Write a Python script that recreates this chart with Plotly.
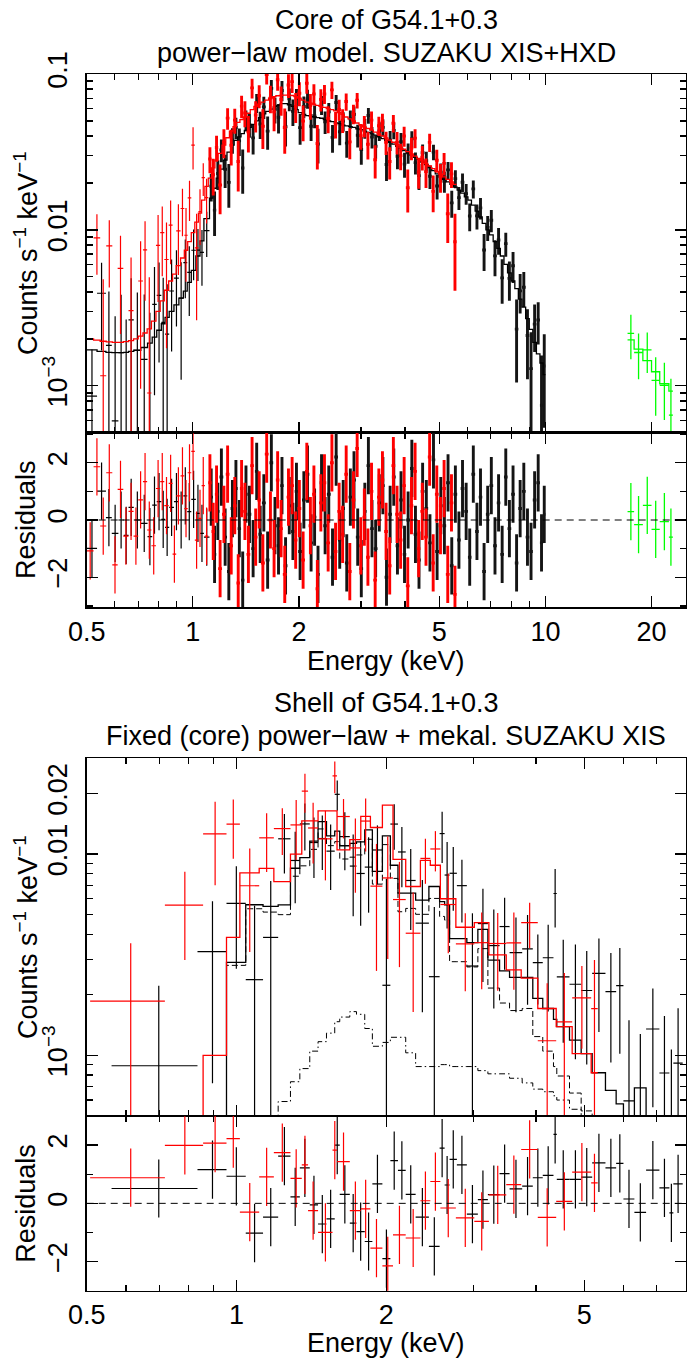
import plotly.graph_objects as go

FONT = "Liberation Sans, Arial, Helvetica, sans-serif"
FS = 27

# ---------------- Core of G54.1+0.3 : XIS (black, red) + HXD (green) ----------------
core_black_edges = [0.500, 0.535, 0.567, 0.589, 0.615, 0.637, 0.657, 0.680, 0.712, 0.744,
    0.767, 0.790, 0.814, 0.834, 0.857, 0.884, 0.913, 0.940, 0.964, 0.990,
    1.020, 1.048, 1.075, 1.115, 1.14, 1.165, 1.19, 1.22, 1.25, 1.28, 1.31, 1.34, 1.37,
    1.40, 1.43, 1.465, 1.50, 1.535, 1.57, 1.61, 1.65, 1.69, 1.73,
    1.77, 1.81, 1.855, 1.90, 1.945, 1.99, 2.04, 2.09, 2.14, 2.19,
    2.24, 2.29, 2.345, 2.40, 2.46, 2.52, 2.58, 2.64, 2.70, 2.765,
    2.83, 2.90, 2.97, 3.04, 3.11, 3.185, 3.26, 3.34, 3.42, 3.50,
    3.585, 3.67, 3.76, 3.85, 3.94, 4.03, 4.13, 4.23, 4.33, 4.43,
    4.54, 4.65, 4.76, 4.87, 4.99, 5.11, 5.23, 5.36, 5.49, 5.62,
    5.75, 5.89, 6.03, 6.17, 6.32, 6.47, 6.62, 6.78, 6.94, 7.11,
    7.28, 7.45, 7.63, 7.81, 8.00, 8.19, 8.38, 8.58, 8.79, 9.00,
    9.21, 9.43, 9.65, 9.85, 10.0]
core_black_model = [1.70e-3, 1.66e-3, 1.64e-3, 1.63e-3, 1.63e-3, 1.64e-3, 1.66e-3, 1.69e-3, 1.76e-3, 1.88e-3,
    2.05e-3, 2.27e-3, 2.5e-3, 2.75e-3, 3.0e-3, 3.3e-3, 3.65e-3, 4.05e-3, 4.6e-3, 5.5e-3,
    6.8e-3, 8.5e-3, 0.0118,
    0.0160, 0.0185, 0.0215, 0.0245, 0.0280, 0.0315, 0.0350, 0.0375, 0.0395, 0.0415,
    0.0435, 0.0455, 0.0475, 0.0500, 0.0525, 0.0555, 0.0575, 0.0595, 0.0615, 0.0630,
    0.0645, 0.0645, 0.0635, 0.0620, 0.0590, 0.0565, 0.0550, 0.0540, 0.0535, 0.0530,
    0.0525, 0.0520, 0.0510, 0.0500, 0.0495, 0.0485, 0.0480, 0.0470, 0.0465, 0.0460,
    0.0455, 0.0445, 0.0440, 0.0430, 0.0422, 0.0413, 0.0405, 0.0395, 0.0385, 0.0375,
    0.0365, 0.0355, 0.0343, 0.0333, 0.0322, 0.0312, 0.0302, 0.0292, 0.0282, 0.0272,
    0.0262, 0.0251, 0.0240, 0.0229, 0.0218, 0.0211, 0.0203, 0.0196, 0.0188, 0.0180,
    0.0172, 0.0163, 0.0155, 0.0144, 0.0132, 0.0121, 0.0110, 0.0100, 0.0093, 0.0084,
    0.0076, 0.0068, 0.0060, 0.0053, 0.0047, 0.0042, 0.0036, 0.0032, 0.0027, 0.0023,
    0.0019, 0.0016, 0.0014, 0.00118]
core_black_resid = [-0.99, 1.01, 0.08, -0.47, 0.0, -0.54, 0.44, 0.0, -0.12, -0.58,
    0.52, 0.64, 0.02, -0.26, 0.44, 0.64, 0.0, 0.84, 0.29, 0.72, 0.23, -0.47, -0.60,
    0.8, -1.2, 0.3, 1.5, -0.6, -1.8, 0.4, 1.1, -0.3, -2.1, 0.9, 0.2, -1.0, 1.7, -0.5,
    0.6, -1.4, 2.0, -0.2, -0.9, 1.2, -1.6, 0.5, -0.4, 1.0,
    -1.1, 0.7, 1.6, -0.8, 0.1, -1.9, 1.3, -0.2, 0.9, -1.3, 2.2, -0.7, 0.4, -1.5, 0.8,
    1.4, -0.6, -1.7, 0.3, 1.9, -0.3, -1.0, 0.6, 1.2, -2.0, 0.2, 1.5, -0.9, 0.7, -1.2,
    0.0, 1.8, -0.5, -1.4, 1.0, 0.4, -0.8, 2.1, -1.1, 0.5, -0.2, 1.3, -1.6, 0.9,
    -0.7, 1.1, 0.3, -1.3, 1.6, -0.4, 0.8, -1.8, 0.2, 1.2, -0.9, 0.6, -1.2, 1.5, -0.3,
    0.9, -1.5, 0.4, 1.0, -0.6, -1.1, 0.7, 1.3, -0.8, 0.2]
core_black_relerr = [0.50, 1.35, 1.35, 1.35, 1.35, 1.35, 1.35, 1.35, 1.35, 1.35,
    1.20, 1.05, 0.95, 0.85, 0.80, 0.76, 0.70, 0.62, 0.55, 0.48, 0.40, 0.33, 0.27,
    0.24, 0.23, 0.23, 0.22, 0.21, 0.20, 0.20,
    0.19, 0.19, 0.19, 0.18, 0.18, 0.18, 0.18, 0.18, 0.18, 0.18,
    0.18, 0.18, 0.18, 0.18, 0.18, 0.18, 0.18, 0.18, 0.18, 0.18,
    0.18, 0.17, 0.17, 0.17, 0.17, 0.16, 0.16, 0.16,
    0.16, 0.16, 0.15, 0.15, 0.15, 0.15, 0.15, 0.15, 0.15, 0.15, 0.15, 0.15, 0.15, 0.15, 0.15,
    0.15, 0.15, 0.15, 0.15, 0.15, 0.15, 0.15, 0.15, 0.15, 0.15, 0.15, 0.15, 0.15, 0.15,
    0.15, 0.15, 0.15, 0.15, 0.15, 0.15, 0.16, 0.16,
    0.16, 0.17, 0.17, 0.18, 0.18, 0.19,
    0.20, 0.21, 0.22, 0.23, 0.24, 0.26,
    0.28, 0.30, 0.32, 0.34, 0.37,
    0.40, 0.44, 0.50,
    0.58, 0.68]
core_black_nlow = 23   # sparse low-energy bins (below ~1.1 keV)

core_red_edges = [0.500, 0.523, 0.546, 0.568, 0.591, 0.612, 0.635, 0.657, 0.679, 0.700,
    0.722, 0.742, 0.763, 0.786, 0.808, 0.830, 0.854, 0.876, 0.897, 0.923,
    0.946, 0.967, 0.990, 1.013, 1.037, 1.059, 1.082, 1.106,
    1.13, 1.155, 1.18, 1.21, 1.24, 1.27, 1.30, 1.33, 1.36,
    1.39, 1.42, 1.455, 1.49, 1.525, 1.56, 1.60, 1.64, 1.68, 1.72,
    1.76, 1.80, 1.845, 1.89, 1.935, 1.98, 2.03, 2.08, 2.13, 2.18,
    2.23, 2.28, 2.335, 2.39, 2.45, 2.51, 2.57, 2.63, 2.69, 2.755,
    2.82, 2.89, 2.96, 3.03, 3.10, 3.175, 3.25, 3.33, 3.41, 3.49,
    3.575, 3.66, 3.75, 3.84, 3.93, 4.02, 4.12, 4.22, 4.32, 4.42,
    4.53, 4.64, 4.75, 4.86, 4.98, 5.10, 5.22, 5.35, 5.48, 5.60]
core_red_model = [2.0e-3, 1.96e-3, 1.93e-3, 1.91e-3, 1.90e-3, 1.90e-3, 1.92e-3, 1.95e-3, 2.0e-3, 2.08e-3,
    2.18e-3, 2.32e-3, 2.6e-3, 3.0e-3, 3.5e-3, 4.1e-3, 4.7e-3, 5.2e-3, 5.9e-3, 6.6e-3,
    7.4e-3, 8.4e-3, 9.6e-3, 0.0112, 0.0128, 0.0155, 0.019,
    0.0215, 0.025, 0.028, 0.031, 0.035, 0.039, 0.043, 0.046, 0.049, 0.051,
    0.053, 0.056, 0.059, 0.062, 0.064, 0.066, 0.068, 0.070, 0.0715, 0.0725,
    0.073, 0.0732, 0.0732, 0.0728, 0.0715, 0.070, 0.068, 0.066, 0.065, 0.064,
    0.063, 0.062, 0.061, 0.060, 0.059, 0.058, 0.0565, 0.055, 0.053, 0.0515,
    0.050, 0.0485, 0.047, 0.0458, 0.0447, 0.0436, 0.0424, 0.0413, 0.0401, 0.0389,
    0.0377, 0.0365, 0.0352, 0.0340, 0.0329, 0.0318, 0.0307, 0.0297, 0.0287, 0.0277,
    0.0267, 0.0257, 0.0247, 0.0237, 0.0228, 0.0219, 0.0211, 0.0203, 0.0196]
core_red_resid = [-1.08, 1.86, -0.21, 1.65, -1.57, 1.07, -0.56, 0.30, -0.56, 0.70,
    1.34, -0.35, -0.90, 1.10, 1.34, 0.50, 1.28, -1.19, 0.84, 1.54,
    0.40, 1.65, 2.40, -0.70, 0.06, 1.20, -0.56,
    1.3, -0.4, 0.9, -1.7, 0.2, 1.6, -0.9, 0.5, -2.2, 1.1, 0.3, -1.2, 1.9, -0.6, 0.7,
    -1.5, 2.3, 0.0, -1.0, 1.4, -0.3, -1.9, 0.8, 1.2, -0.7, 0.4,
    -1.4, 1.7, -0.2, 0.9, -2.4, 0.6, 1.3, -0.8, 2.0, -1.1, 0.3, -0.5, 1.6, -1.8, 0.7,
    2.5, -0.9, 0.1, -1.3, 1.0, -2.1, 0.8, 1.4, -0.4, -1.6, 1.9, 0.2, -0.7, 1.2, -2.3,
    0.5, 1.7, -1.0, 0.3, -0.6, 2.2, -1.5, 0.9, -0.2, 1.1, -1.9, 0.6, -2.6]
core_red_relerr = [1.9, 1.9, 1.9, 1.9, 1.9, 1.85, 1.85, 1.85, 1.8, 1.8,
    1.8, 1.75, 1.7, 1.5, 1.3, 1.15, 1.0, 0.9, 0.8, 0.7,
    0.62, 0.55, 1.1, 0.45, 0.4, 0.33, 0.27,
    0.25, 0.24, 0.23, 0.22, 0.22, 0.21, 0.21,
    0.20, 0.20, 0.20, 0.20, 0.20, 0.20, 0.20, 0.19, 0.20, 0.20,
    0.20, 0.20, 0.19, 0.20, 0.20, 0.20, 0.19, 0.19, 0.19, 0.19,
    0.19, 0.18, 0.18, 0.18, 0.18, 0.17, 0.17, 0.17,
    0.16, 0.16, 0.16, 0.16, 0.16, 0.16, 0.16, 0.16, 0.16, 0.16, 0.16, 0.16, 0.16, 0.16, 0.16,
    0.17, 0.17, 0.17, 0.17, 0.18, 0.18, 0.18, 0.18, 0.18, 0.19,
    0.19, 0.19, 0.19, 0.20, 0.20, 0.20, 0.21, 0.21, 0.22]
core_red_nlow = 27

core_green_edges = [17.1, 17.85, 18.9, 20.0, 21.1, 22.4, 23.0]
core_green_model = [1.97e-3, 1.72e-3, 1.45e-3, 1.23e-3, 1.03e-3, 9.25e-4]
core_green_resid = [0.29, -0.16, 0.51, -0.33, -0.06, -0.60]
core_green_relerr = [0.35, 0.31, 0.34, 0.36, 0.39, 0.50]

# ---------------- Shell of G54.1+0.3 : XIS (black, red) ----------------
shell_black_edges = [0.561, 0.835, 0.955, 1.044, 1.131, 1.213, 1.284, 1.341, 1.404, 1.459,
    1.517, 1.576, 1.613, 1.690, 1.743, 1.811, 1.876, 1.965, 2.039, 2.112,
    2.189, 2.292, 2.437, 2.561, 2.621, 2.682, 2.774, 2.905, 3.057, 3.202,
    3.380, 3.540, 3.753, 3.942, 4.128, 4.338, 4.405, 4.672, 4.931, 5.189,
    5.518, 5.798, 5.997, 6.309, 6.660, 7.083, 7.418, 7.556, 7.890]
shell_black_powerlaw = [2.0e-4, 3.0e-4, 2.8e-3, 5.35e-3, 5.15e-3, 5.0e-3, 7.76e-3, 8.74e-3, 0.01055, 0.01333,
    0.01101, 0.01153, 0.00945, 0.00965, 0.0099, 0.01184, 0.00709, 0.01114, 0.00757, 0.00517,
    0.00537, 0.00502, 0.00602, 0.0049, 0.0047, 0.00292, 0.00292, 0.00275, 0.00339, 0.00216,
    0.00182, 0.00167, 0.00171, 0.00124, 0.00105, 0.00088, 0.00079, 0.00065, 0.00053, 0.00037,
    0.00025, 0.000175, 0.00008, 0.00033, 0.00009, 0.00008, 0.00007, 0.00006]
shell_black_mekal = [1e-5, 2e-5, 1e-4, 2.5e-4, 3.5e-4, 5.9e-4, 7.4e-4, 8.6e-4, 1.05e-3, 1.17e-3,
    1.29e-3, 1.47e-3, 1.55e-3, 1.65e-3, 1.6e-3, 1.36e-3, 1.11e-3, 1.16e-3, 1.23e-3, 1.23e-3,
    1.03e-3, 8.8e-4, 8.8e-4, 9.0e-4, 9.0e-4, 8.8e-4, 8.8e-4, 8.8e-4, 8.4e-4, 8.1e-4,
    8.1e-4, 7.7e-4, 7.3e-4, 6.8e-4, 6.6e-4, 6.3e-4, 6.0e-4, 5.4e-4, 4.9e-4, 4.5e-4,
    4.2e-4, 4.0e-4, 3.8e-4, 3.6e-4, 3.5e-4, 3.4e-4, 3.3e-4, 3.2e-4]
shell_black_resid = [0.51, 1.16, 0.93, -1.02, -0.47, 1.62, 0.22, 1.22, -0.05, -0.71,
    -0.53, 2.0, 0.31, -0.68, -0.97, -1.31, 0.67, -1.9, 1.47, 1.13,
    0.31, -0.47, -1.48, 1.90, 0.63, 1.51, 1.32, -0.37, 0.13, 0.30,
    1.02, 0.50, 0.59, 0.88, 0.96, 2.37, 0.82, 0.82, 0.90, 1.39,
    1.22, 1.37, 0.15, -0.31, 1.14, 0.53, -0.33, 0.67]
shell_black_err = [1.33e-3, 2.55e-3, 3.0e-3, 3.16e-3, 3.5e-3, 3.9e-3, 3.6e-3, 3.7e-3, 3.8e-3, 3.6e-3,
    3.7e-3, 3.4e-3, 3.9e-3, 3.8e-3, 3.6e-3, 3.5e-3, 3.4e-3, 5.3e-3, 3.6e-3, 3.4e-3,
    3.2e-3, 2.9e-3, 3.0e-3, 3.6e-3, 3.6e-3, 2.8e-3, 2.4e-3, 2.3e-3, 2.2e-3, 1.8e-3,
    1.7e-3, 1.6e-3, 1.6e-3, 1.1e-3, 1.4e-3, 2.05e-3, 1.3e-3, 1.3e-3, 1.2e-3, 1.25e-3,
    1.15e-3, 1.2e-3, 0.9e-3, 0.85e-3, 0.8e-3, 0.75e-3, 1.0e-3, 0.8e-3]

shell_red_edges = [0.508, 0.718, 0.857, 0.955, 1.016, 1.111, 1.189, 1.284, 1.353, 1.393,
    1.459, 1.560, 1.593, 1.690, 1.778, 1.859, 1.965, 2.064, 2.189, 2.343,
    2.453, 2.570, 2.761, 3.007, 3.217, 3.486, 3.736, 4.034, 4.393, 4.730,
    5.165, 5.324]
shell_red_model = [3.3e-4, 4.0e-4, 1.0e-3, 3.86e-3, 8.07e-3, 8.49e-3, 7.29e-3, 0.0100, 0.0146, 0.0146,
    0.0164, 0.0164, 0.0105, 0.0118, 0.0154, 0.01355, 0.0175, 9.4e-3, 6.9e-3, 9.3e-3,
    8.8e-3, 6.0e-3, 4.33e-3, 4.56e-3, 3.16e-3, 2.66e-3, 2.42e-3, 1.71e-3, 1.39e-3, 1.02e-3,
    8.2e-4]
shell_red_resid = [0.88, 1.99, 2.07, 2.22, -0.30, 0.91, 1.74, 0.86, 1.32, -0.25,
    -1.00, 1.83, 1.43, -0.25, -0.19, -1.54, -2.15, -1.08, -1.19, 0.09,
    0.75, -0.16, -0.50, -0.62, 0.29, 0.64, 1.85, -0.48, 0.07, 1.07,
    0.70]
shell_red_err = [1.74e-3, 2.6e-3, 5.6e-3, 4.6e-3, 3.7e-3, 3.9e-3, 3.5e-3, 4.6e-3, 4.5e-3, 4.5e-3,
    4.5e-3, 4.4e-3, 3.4e-3, 4.3e-3, 4.3e-3, 4.3e-3, 4.6e-3, 3.2e-3, 2.4e-3, 2.4e-3,
    2.4e-3, 2.4e-3, 1.5e-3, 1.5e-3, 1.5e-3, 1.5e-3, 1.16e-3, 1.1e-3, 1.1e-3, 0.85e-3,
    1.27e-3]

# ---------------- tick labels ----------------
core_xtick_vals = [0.5, 1, 2, 5, 10, 20]
core_xtick_text = ["0.5", "1", "2", "5", "10", "20"]
core_xminor = [0.6, 0.7, 0.8, 0.9, 3, 4, 6, 7, 8, 9]
core_ytick_vals = [1e-3, 1e-2, 1e-1]
core_ytick_text = ["10<sup>\u22123</sup>", "0.01", "0.1"]
core_yminor = [6e-4, 7e-4, 8e-4, 9e-4, 2e-3, 3e-3, 4e-3, 5e-3, 6e-3, 7e-3, 8e-3, 9e-3,
               2e-2, 3e-2, 4e-2, 5e-2, 6e-2, 7e-2, 8e-2, 9e-2]
shell_xtick_vals = [0.5, 1, 2, 5]
shell_xtick_text = ["0.5", "1", "2", "5"]
shell_xminor = [0.6, 0.7, 0.8, 0.9, 3, 4, 6, 7, 8]
shell_ytick_vals = [1e-3, 1e-2, 2e-2]
shell_ytick_text = ["10<sup>\u22123</sup>", "0.01", "0.02"]
shell_yminor = [6e-4, 7e-4, 8e-4, 9e-4, 2e-3, 3e-3, 4e-3, 5e-3, 6e-3, 7e-3, 8e-3, 9e-3, 3e-2]
res_tick_vals = [-2, 0, 2]
res_tick_text = ["\u22122", "0", "2"]
res_minor = [-3, -1, 1, 3]


def check(name, edges, *arrs):
    for a in arrs:
        assert len(a) == len(edges) - 1, (name, len(edges), [len(x) for x in arrs])


check("core_black", core_black_edges, core_black_model, core_black_resid, core_black_relerr)
check("core_red", core_red_edges, core_red_model, core_red_resid, core_red_relerr)
check("core_green", core_green_edges, core_green_model, core_green_resid, core_green_relerr)
check("shell_black", shell_black_edges, shell_black_powerlaw, shell_black_mekal, shell_black_resid, shell_black_err)
check("shell_red", shell_red_edges, shell_red_model, shell_red_resid, shell_red_err)


def centers(edges):
    return [(a + b) / 2 for a, b in zip(edges[:-1], edges[1:])]


def halfwidths(edges):
    return [(b - a) / 2 for a, b in zip(edges[:-1], edges[1:])]


fig = go.Figure()
HIDDEN = dict(size=2, opacity=0)


def add_data(edges, model, resid, err, color, xs, ys, xr, yr, thick, sl=slice(None)):
    xc = centers(edges)[sl]
    hw = halfwidths(edges)[sl]
    md, rs, er = list(model)[sl], list(resid)[sl], list(err)[sl]
    yv = [m + r * e for m, r, e in zip(md, rs, er)]
    fig.add_trace(go.Scatter(
        x=xc, y=yv, mode="markers", marker=HIDDEN,
        error_x=dict(type="data", array=hw, width=0, thickness=thick, color=color),
        error_y=dict(type="data", array=er, width=0, thickness=thick, color=color),
        xaxis=xs, yaxis=ys, showlegend=False, hoverinfo="skip"))
    fig.add_trace(go.Scatter(
        x=xc, y=rs, mode="markers", marker=HIDDEN,
        error_x=dict(type="data", array=hw, width=0, thickness=thick, color=color),
        error_y=dict(type="constant", value=1.0, width=0, thickness=thick, color=color),
        xaxis=xr, yaxis=yr, showlegend=False, hoverinfo="skip"))


def add_step(edges, model, color, xs, ys, dash="solid", width=1.3):
    fig.add_trace(go.Scatter(
        x=list(edges), y=list(model) + [model[-1]], mode="lines",
        line=dict(color=color, width=width, shape="hv", dash=dash),
        xaxis=xs, yaxis=ys, showlegend=False, hoverinfo="skip"))


# ----- core -----
cb_err = [m * f for m, f in zip(core_black_model, core_black_relerr)]
cr_err = [m * f for m, f in zip(core_red_model, core_red_relerr)]
cg_err = [m * f for m, f in zip(core_green_model, core_green_relerr)]
add_data(core_black_edges, core_black_model, core_black_resid, cb_err, "#000000", "x", "y", "x2", "y2", 1.2,
         slice(0, core_black_nlow))
add_data(core_black_edges, core_black_model, core_black_resid, cb_err, "#141414", "x", "y", "x2", "y2", 2.9,
         slice(core_black_nlow, None))
add_step(core_black_edges, core_black_model, "#000000", "x", "y")
add_data(core_red_edges, core_red_model, core_red_resid, cr_err, "#ff0000", "x", "y", "x2", "y2", 1.2,
         slice(0, core_red_nlow))
add_data(core_red_edges, core_red_model, core_red_resid, cr_err, "#ff0000", "x", "y", "x2", "y2", 2.9,
         slice(core_red_nlow, None))
add_step(core_red_edges, core_red_model, "#ff0000", "x", "y")
add_data(core_green_edges, core_green_model, core_green_resid, cg_err, "#00ff00", "x", "y", "x2", "y2", 1.3)
add_step(core_green_edges, core_green_model, "#00ff00", "x", "y")

# ----- shell -----
shell_black_total = [p + k for p, k in zip(shell_black_powerlaw, shell_black_mekal)]
add_data(shell_black_edges, shell_black_total, shell_black_resid, shell_black_err, "#000000", "x3", "y3", "x4", "y4", 1.2)
add_step(shell_black_edges, shell_black_total, "#000000", "x3", "y3")
add_step(shell_black_edges, shell_black_powerlaw, "#000000", "x3", "y3", dash="6px,3px", width=1.0)
add_step(shell_black_edges, shell_black_mekal, "#000000", "x3", "y3", dash="6px,3px,1.5px,3px", width=1.0)
add_data(shell_red_edges, shell_red_model, shell_red_resid, shell_red_err, "#ff0000", "x3", "y3", "x4", "y4", 1.2)
add_step(shell_red_edges, shell_red_model, "#ff0000", "x3", "y3")

W, H = 699, 1360
XD = [86.7 / W, 685.7 / W]


def ydom(top_px, bot_px):
    return [1 - bot_px / H, 1 - top_px / H]


def base_axis(**kw):
    d = dict(showline=True, linecolor="black", linewidth=1.3, mirror="ticks",
             ticks="inside", tickcolor="black", tickwidth=1.3, ticklen=11,
             showgrid=False, zeroline=False, automargin=False,
             tickfont=dict(family=FONT, size=FS, color="black"))
    d.update(kw)
    return d


def minor(vals):
    return dict(tickmode="array", tickvals=vals, ticks="inside", ticklen=6,
                tickcolor="black", tickwidth=1.3, showgrid=False)


YSO = 8  # extra gap between rotated y tick labels and the frame

fig.update_layout(
    template="none",
    width=W, height=H, autosize=False,
    margin=dict(l=0, r=0, t=0, b=0, pad=0, autoexpand=False),
    paper_bgcolor="white", plot_bgcolor="white",
    font=dict(family=FONT, size=FS, color="black"),
    showlegend=False,
    xaxis=base_axis(domain=XD, type="log", range=[-0.30103, 1.39794], anchor="y",
                    tickmode="array", tickvals=core_xtick_vals, ticktext=core_xtick_text,
                    showticklabels=False, minor=minor(core_xminor)),
    yaxis=base_axis(domain=ydom(74, 432.7), type="log", range=[-3.30103, -1.0], anchor="x",
                    tickmode="array", tickvals=core_ytick_vals, ticktext=core_ytick_text,
                    tickangle=-90, ticklabelstandoff=YSO, minor=minor(core_yminor)),
    xaxis2=base_axis(domain=XD, type="log", range=[-0.30103, 1.39794], anchor="y2",
                     tickmode="array", tickvals=core_xtick_vals, ticktext=core_xtick_text,
                     minor=minor(core_xminor)),
    yaxis2=base_axis(domain=ydom(432.7, 607.3), range=[-3.05, 3.05], anchor="x2",
                     tickmode="array", tickvals=res_tick_vals, ticktext=res_tick_text,
                     tickangle=-90, ticklabelstandoff=YSO, minor=minor(res_minor)),
    xaxis3=base_axis(domain=XD, type="log", range=[-0.30103, 0.90309], anchor="y3",
                     tickmode="array", tickvals=shell_xtick_vals, ticktext=shell_xtick_text,
                     showticklabels=False, minor=minor(shell_xminor)),
    yaxis3=base_axis(domain=ydom(758, 1116), type="log", range=[-3.30103, -1.52288], anchor="x3",
                     tickmode="array", tickvals=shell_ytick_vals, ticktext=shell_ytick_text,
                     tickangle=-90, ticklabelstandoff=YSO, minor=minor(shell_yminor)),
    xaxis4=base_axis(domain=XD, type="log", range=[-0.30103, 0.90309], anchor="y4",
                     tickmode="array", tickvals=shell_xtick_vals, ticktext=shell_xtick_text,
                     minor=minor(shell_xminor)),
    yaxis4=base_axis(domain=ydom(1116, 1290.7), range=[-3.0, 3.0], anchor="x4",
                     tickmode="array", tickvals=res_tick_vals, ticktext=res_tick_text,
                     tickangle=-90, ticklabelstandoff=YSO, minor=minor(res_minor)),
)

# zero lines in residual panels
for xr, yr in (("x2", "y2"), ("x4", "y4")):
    fig.add_shape(type="line", xref=xr + " domain", x0=0, x1=1, yref=yr, y0=0, y1=0,
                  line=dict(color="black", width=1, dash="7px,5px"), layer="above")


def ann(text, xpx, ypx, angle=0):
    fig.add_annotation(text=text, x=xpx / W, y=1 - ypx / H, xref="paper", yref="paper",
                       showarrow=False, xanchor="center", yanchor="middle", textangle=angle,
                       font=dict(family=FONT, size=FS, color="black"))


cx = (86.7 + 685.7) / 2
ann("Core of G54.1+0.3", cx, 20)
ann("power\u2212law model. SUZAKU XIS+HXD", cx, 53)
ann("Counts s<sup>\u22121</sup> keV<sup>\u22121</sup>", 26, 253, -90)
ann("Residuals", 26, 520, -90)
ann("Energy (keV)", cx, 661)
ann("Shell of G54.1+0.3", cx, 703)
ann("Fixed (core) power\u2212law + mekal. SUZAKU XIS", cx, 736)
ann("Counts s<sup>\u22121</sup> keV<sup>\u22121</sup>", 26, 937, -90)
ann("Residuals", 26, 1203.7, -90)
ann("Energy (keV)", cx, 1343)

fig.write_html("out.html",
               config={"displayModeBar": False, "staticPlot": True},
               post_script="document.body.style.margin='0px';document.body.style.overflow='hidden';")
